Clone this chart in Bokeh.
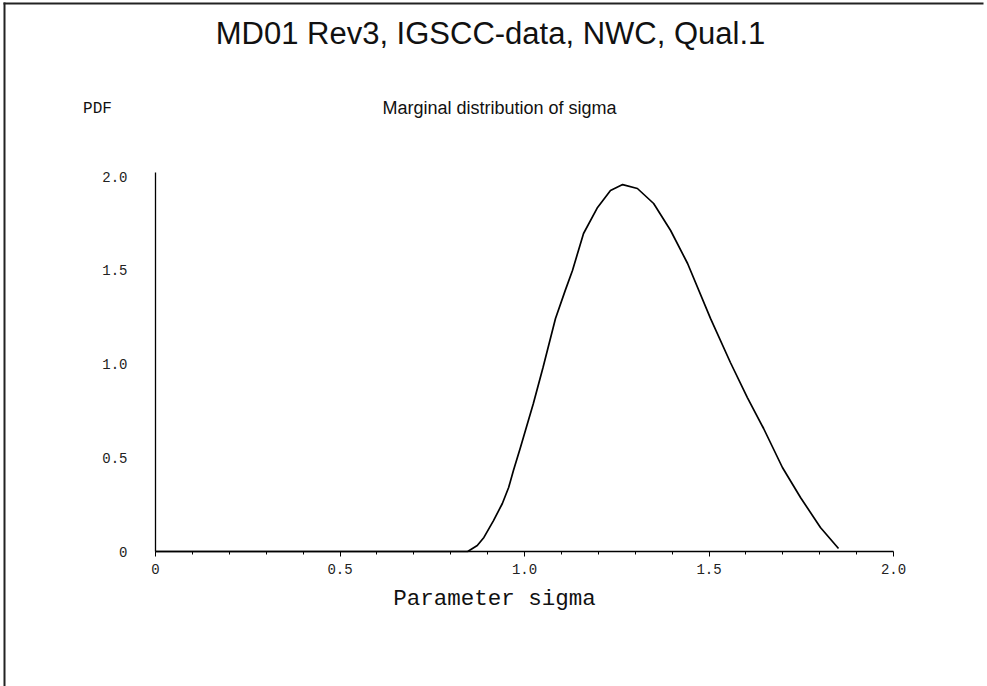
from bokeh.plotting import figure
from bokeh.models import Range1d, FixedTicker, Label, BoxAnnotation, LinearAxis
from bokeh.embed import file_html
from bokeh.resources import INLINE

# ---- data ----
sigma = [0.0, 0.846, 0.872, 0.89, 0.916, 0.94, 0.957, 0.97, 0.989, 1.024, 1.05,
         1.084, 1.11, 1.13, 1.16, 1.198, 1.233, 1.266, 1.306, 1.35, 1.396, 1.442,
         1.504, 1.558, 1.604, 1.648, 1.699, 1.748, 1.802, 1.851]
pdf = [0.0, 0.0, 0.032, 0.075, 0.165, 0.256, 0.341, 0.432, 0.555, 0.789, 0.98,
       1.243, 1.39, 1.499, 1.696, 1.835, 1.925, 1.957, 1.936, 1.856, 1.712, 1.536,
       1.243, 1.008, 0.821, 0.656, 0.448, 0.288, 0.128, 0.016]

x_ticks = [0, 0.5, 1.0, 1.5, 2.0]
x_tick_labels = ["0", "0.5", "1.0", "1.5", "2.0"]
x_minor_ticks = [0.1, 0.2, 0.3, 0.4, 0.6, 0.7, 0.8, 0.9, 1.1, 1.2, 1.3, 1.4,
                 1.6, 1.7, 1.8, 1.9]
y_ticks = [0, 0.5, 1.0, 1.5, 2.0]
y_tick_labels = ["0", "0.5", "1.0", "1.5", "2.0"]

title_text = "MD01 Rev3, IGSCC-data, NWC, Qual.1"
subtitle_text = "Marginal distribution of sigma"
y_title = "PDF"
x_title = "Parameter sigma"

MONO = "Liberation Mono"
SANS = "Liberation Sans"

W, H = 987, 686
# page-pixel geometry of the plotted area: x 0..2 -> 155..893, y 0..2 -> 551..176
X0, X2, Y0, Y2 = 155.0, 893.0, 551.0, 176.0
kx = (X2 - X0) / 2.0
ky = (Y0 - Y2) / 2.0


def dx(px):
    return (px - X0) / kx


def dy(py):
    return (Y0 - py) / ky


p = figure(width=W, height=H, output_backend="svg", toolbar_location=None,
           x_range=Range1d(dx(0), dx(W)), y_range=Range1d(dy(H), dy(0)),
           x_axis_location=None, y_axis_location=None,
           min_border=0)
p.outline_line_color = None
p.grid.visible = False
p.background_fill_color = "white"
p.border_fill_color = "white"

p.line(sigma, pdf, line_color="black", line_width=1.7)

# x axis, pinned at y = 0
xa = LinearAxis(fixed_location=0, bounds=(0, 2.0))
xa.ticker = FixedTicker(ticks=x_ticks, minor_ticks=x_minor_ticks)
xa.major_label_overrides = {t: l for t, l in zip(x_ticks, x_tick_labels)}
xa.major_tick_out = 5
xa.major_tick_in = 0
xa.minor_tick_out = 3
xa.minor_tick_in = 0
xa.major_label_standoff = 7
xa.major_label_text_font = MONO
xa.major_label_text_font_size = "14px"
xa.major_label_text_color = "#222"
xa.axis_line_color = "black"
xa.axis_line_width = 1.3
p.add_layout(xa, "below")

# y axis, pinned at x = 0
ya = LinearAxis(fixed_location=0, bounds=(0, 2.02))
ya.ticker = FixedTicker(ticks=y_ticks, minor_ticks=[])
ya.major_label_overrides = {t: l for t, l in zip(y_ticks, y_tick_labels)}
ya.major_tick_out = 0
ya.major_tick_in = 0
ya.major_label_standoff = 28
ya.major_label_text_font = MONO
ya.major_label_text_font_size = "14px"
ya.major_label_text_color = "#222"
ya.axis_line_color = "black"
ya.axis_line_width = 1.3
p.add_layout(ya, "left")


def lab(px, py, text, font, size):
    return Label(x=dx(px), y=dy(py), text=text, text_align="center",
                 text_baseline="middle", text_font=font, text_font_size=size,
                 text_color="#111")


p.add_layout(lab(490, 33, title_text, SANS, "31px"))
p.add_layout(lab(499, 107, subtitle_text, SANS, "18px"))
p.add_layout(lab(97, 108, y_title, MONO, "16px"))
p.add_layout(lab(494, 598, x_title, MONO, "22.5px"))

# page frame: left and top rules of the scanned sheet
p.add_layout(BoxAnnotation(left=dx(3), right=dx(5), top=dy(2), bottom=dy(H),
                           fill_color="#222", fill_alpha=1, line_color=None,
                           line_alpha=0, line_width=0))
p.add_layout(BoxAnnotation(left=dx(3), right=dx(W - 4), top=dy(2), bottom=dy(4),
                           fill_color="#222", fill_alpha=1, line_color=None,
                           line_alpha=0, line_width=0))

open("out.html", "w").write(file_html(p, INLINE))
